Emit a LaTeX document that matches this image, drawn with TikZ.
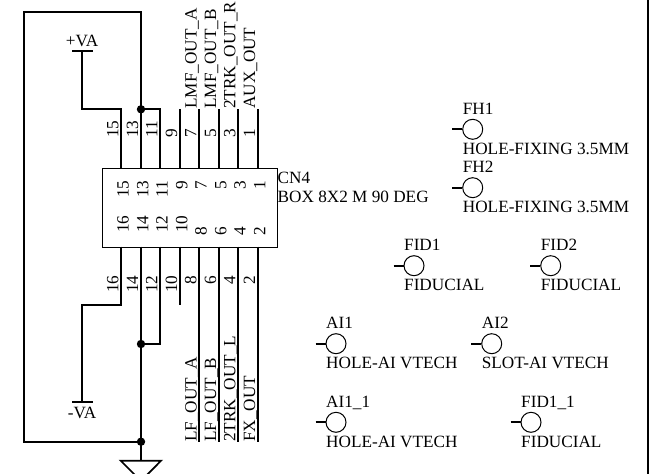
\documentclass[tikz,border=0pt]{standalone}
\usepackage{fontspec}
\setmainfont{Liberation Serif}
\tikzset{
 x=1pt,y=-1pt,
 wire/.style={line width=1.75pt,line cap=butt,line join=miter},
 lbl/.style={inner sep=0pt,font=\fontsize{17.2}{17.2}\selectfont,anchor=base west},
 clbl/.style={inner sep=0pt,font=\fontsize{17.2}{17.2}\selectfont,anchor=base},
 vlbl/.style={inner sep=0pt,font=\fontsize{17.2}{17.2}\selectfont,anchor=base west,rotate=90},
 vlbe/.style={inner sep=0pt,font=\fontsize{17.2}{17.2}\selectfont,anchor=base east,rotate=90},
 dotn/.style={circle,fill=black,inner sep=0pt,minimum size=8.4pt},
 hole/.style={circle,draw,line width=1pt,inner sep=0pt,minimum size=20pt},
}
\newcommand{\mech}[5]{% name, x(circle centre), y, ref, value
 \node[hole] (#1) at (#2,#3) {};
 \coordinate (#1l) at (#2-20.5,#3);
 \draw[wire] (#1l) -- (#1);
 \node[lbl] (#1r) at (#2-10,#3-15) {#4};
 \node[lbl] (#1v) at (#2-10,#3+24.8) {#5};
}
\begin{document}
\begin{tikzpicture}
\useasboundingbox (0,0) rectangle (652,473);
\fill[white] (0,0) rectangle (652,473);
\clip (0,0) rectangle (652,473);
\draw[line width=2pt] (648,-2) -- (648,475);
% connector body
\node[draw,line width=0.8pt,minimum width=175.6pt,minimum height=78.4pt,inner sep=0pt,anchor=north west] (cn) at (101.7,168.3) {};
\node[lbl] (cnr) at (277.5,183.5) {CN4};
\node[lbl] (cnv) at (277.5,202.5) {BOX 8X2 M 90 DEG};
% pin coordinates
\foreach \n/\x in {a/121.3,b/141,c/160.3,d/180,e/199.3,f/219,g/238.3,h/258}{
 \coordinate (t\n) at (\x,168.3);
 \coordinate (u\n) at (\x,109.3);
 \coordinate (d\n) at (\x,246.7);
 \coordinate (l\n) at (\x,442);
}
% pin numbers
\foreach \n/\x/\t in {ta/121.3/15,tb/141/13,tc/160.3/11,td/180/9,te/199.3/7,tf/219/5,tg/238.3/3,th/258/1}{
 \node[vlbe] (i\n) at (\x+7.4,180.5) {\t};
 \node[vlbl] (o\n) at (\x-3,138) {\t};
}
\foreach \n/\x/\t in {ba/121.3/16,bb/141/14,bc/160.3/12,bd/180/10}{
 \node[vlbl] (i\n) at (\x+7.4,233) {\t};
 \node[vlbe] (o\n) at (\x-3,275.5) {\t};
}
\foreach \n/\x/\t in {be/199.3/8,bf/219/6,bg/238.3/4,bh/258/2}{
 \node[vlbl] (i\n) at (\x+7.4,235.5) {\t};
 \node[vlbe] (o\n) at (\x-3,275.5) {\t};
}
% top wires
\draw[wire] (td) -- (ud);
\foreach \n in {e,f,g,h}{\draw[wire] (t\n) -- (u\n); \draw[wire] (d\n) -- (l\n);}
\coordinate (j1) at (141,109.3);
\coordinate (j2) at (141,344);
\coordinate (j3) at (141,441.7);
\coordinate (corner1) at (141,12);
\coordinate (corner2) at (24,12);
\coordinate (corner3) at (24,441.7);
\draw[wire] (tb) -- (corner1) -- (corner2) -- (corner3) -- (j3);
\draw[wire] (j1) -| (tc);
\coordinate (pvbar) at (82.3,51.3);
\coordinate (pvl) at (72.3,51.3);
\coordinate (pvr) at (92.7,51.3);
\draw[wire] (pvl) -- (pvr);
\draw[wire] (pvbar) |- (ua) -- (ta);
\node[clbl] (pv) at (82,46.7) {+VA};
% bottom wires
\coordinate (mvbar) at (82.3,402.3);
\coordinate (mvl) at (72.3,402.3);
\coordinate (mvr) at (92.7,402.3);
\coordinate (ka) at (121.3,304.7);
\coordinate (kd) at (180,304.7);
\draw[wire] (mvl) -- (mvr);
\draw[wire] (da) -- (ka) -| (mvbar);
\node[clbl] (mv) at (82,418) {-VA};
\draw[wire] (dd) -- (kd);
\draw[wire] (dc) |- (j2);
\coordinate (gt) at (141,460.7);
\draw[wire] (db) -- (gt);
\coordinate (gl) at (120.7,460.7);
\coordinate (gr) at (161,460.7);
\coordinate (ga) at (141,481);
\draw[wire] (gl) -- (gr) -- (ga) -- cycle;
\foreach \j in {j1,j2,j3}{\node[dotn] at (\j) {};}
% net labels
\node[vlbl] (n1) at (196.7,109) {LMF\_OUT\_A};
\node[vlbl] (n2) at (216,109) {LMF\_OUT\_B};
\node[vlbl] (n3) at (235.4,109) {2TRK\_OUT\_R};
\node[vlbl] (n4) at (255,109) {AUX\_OUT};
\node[vlbl] (n5) at (196.7,442) {LF\_OUT\_A};
\node[vlbl] (n6) at (216,442) {LF\_OUT\_B};
\node[vlbl] (n7) at (235.4,442) {2TRK\_OUT\_L};
\node[vlbl] (n8) at (255,442) {FX\_OUT};
% mechanical parts
\mech{fha}{472.7}{129.3}{FH1}{HOLE-FIXING 3.5MM}
\mech{fhb}{472.7}{187.7}{FH2}{HOLE-FIXING 3.5MM}
\mech{fida}{414}{265.7}{FID1}{FIDUCIAL}
\mech{fidb}{550.7}{265.7}{FID2}{FIDUCIAL}
\mech{aia}{336}{343.7}{AI1}{HOLE-AI VTECH}
\mech{aib}{491.7}{343.7}{AI2}{SLOT-AI VTECH}
\mech{aic}{336}{422.3}{AI1\_1}{HOLE-AI VTECH}
\mech{fidc}{531}{422.3}{FID1\_1}{FIDUCIAL}
\end{tikzpicture}
\end{document}
